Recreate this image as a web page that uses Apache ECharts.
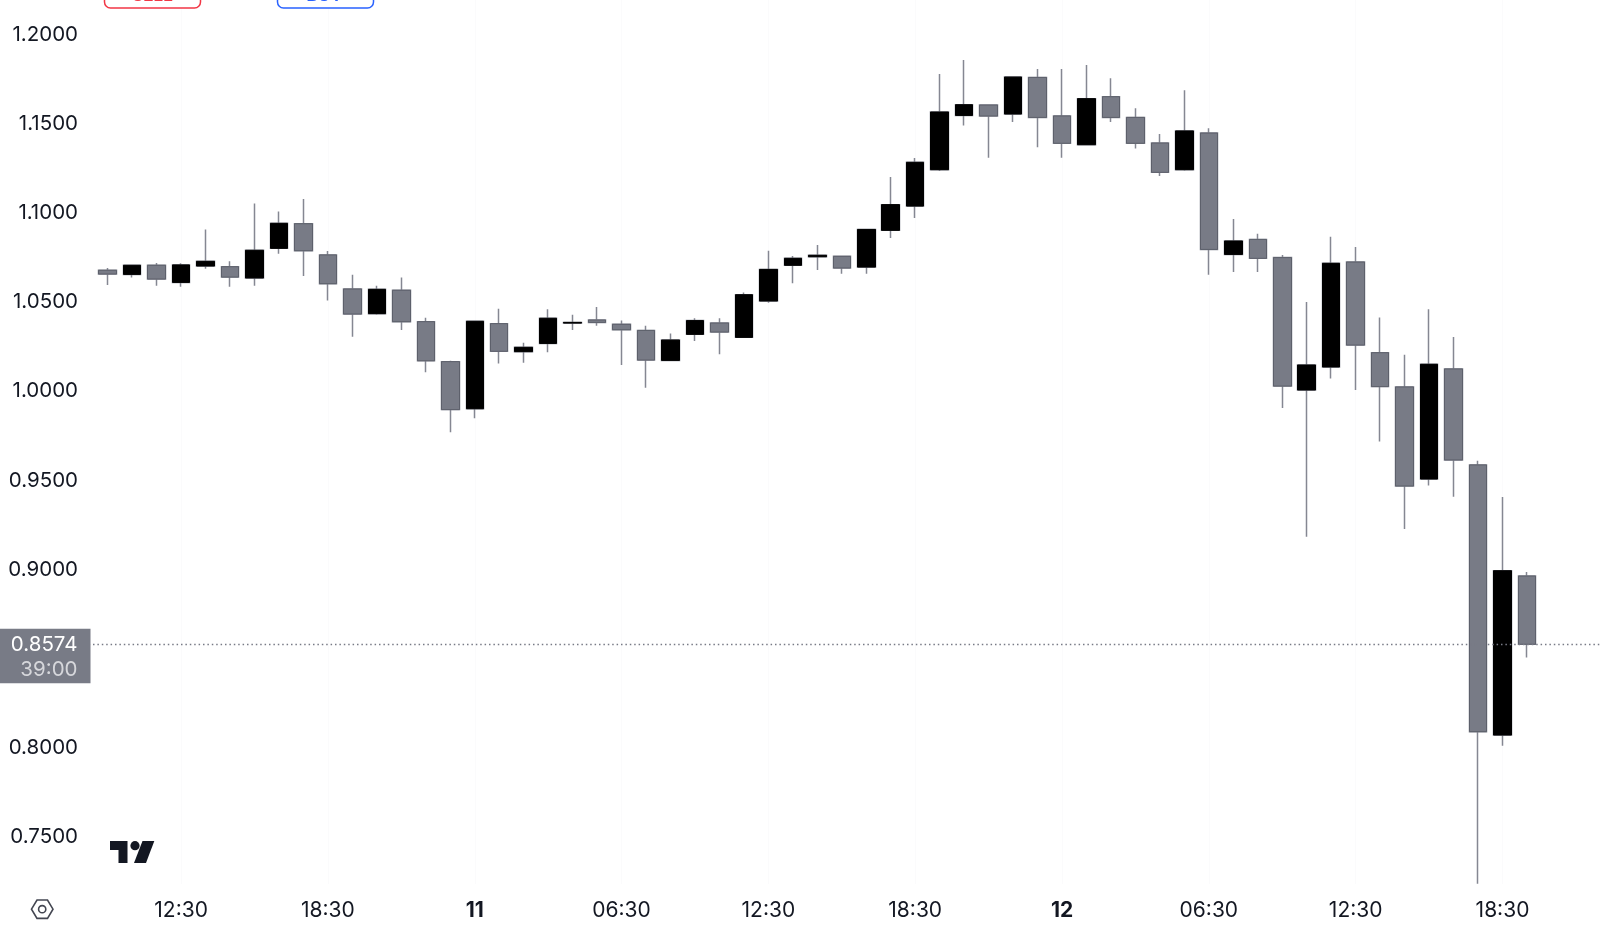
<!DOCTYPE html>
<html>
<head>
<meta charset="utf-8">
<style>html,body{margin:0;padding:0;background:#fff;overflow:hidden}#c{width:1600px;height:929px}</style>
<script src="https://cdn.jsdelivr.net/npm/echarts@6/dist/echarts.min.js"></script>
</head>
<body>
<div id="c"></div>
<script>
const opens = [1.0670,1.0647,1.0698,1.0602,1.0694,1.0690,1.0627,1.0793,1.0931,1.0756,1.0565,1.0427,1.0558,1.0382,1.0158,0.9894,1.0371,1.0214,1.0260,1.0374,1.0391,1.0367,1.0333,1.0165,1.0311,1.0374,1.0294,1.0498,1.0698,1.0746,1.0748,1.0688,1.0894,1.1030,1.1234,1.1538,1.1596,1.1546,1.1751,1.1535,1.1374,1.1643,1.1527,1.1383,1.1234,1.1439,1.0759,1.0843,1.0741,0.9999,1.0128,1.0716,1.0208,1.0016,0.9500,1.0117,0.9579,0.8065,0.8956];
const closes = [1.0649,1.0698,1.0621,1.0700,1.0720,1.0632,1.0782,1.0933,1.0780,1.0595,1.0425,1.0563,1.0382,1.0163,0.9889,1.0384,1.0216,1.0238,1.0401,1.0378,1.0378,1.0337,1.0167,1.0279,1.0388,1.0324,1.0533,1.0675,1.0737,1.0754,1.0683,1.0899,1.1038,1.1275,1.1557,1.1598,1.1535,1.1753,1.1527,1.1382,1.1632,1.1527,1.1382,1.1219,1.1451,1.0787,1.0834,1.0737,1.0021,1.0139,1.0709,1.0251,1.0018,0.9461,1.0143,0.9607,0.8084,0.8986,0.8574];
const highs = [1.0683,1.0698,1.0711,1.0709,1.0899,1.0720,1.1045,1.1000,1.1069,1.0778,1.0645,1.0584,1.0630,1.0404,1.0163,1.0388,1.0455,1.0264,1.0451,1.0421,1.0464,1.0389,1.0359,1.0316,1.0401,1.0401,1.0546,1.0780,1.0750,1.0812,1.0750,1.0899,1.1193,1.1299,1.1770,1.1849,1.1598,1.1753,1.1798,1.1798,1.1821,1.1746,1.1578,1.1434,1.1679,1.1466,1.0957,1.0875,1.0756,1.0492,1.0858,1.0800,1.0406,1.0197,1.0451,1.0296,0.9603,0.9399,0.8979];
const lows = [1.0587,1.0630,1.0584,1.0578,1.0679,1.0578,1.0584,1.0763,1.0638,1.0501,1.0298,1.0421,1.0335,1.0098,0.9762,0.9840,1.0148,1.0152,1.0210,1.0335,1.0359,1.0139,1.0012,1.0160,1.0274,1.0199,1.0294,1.0488,1.0597,1.0672,1.0651,1.0651,1.0851,1.0963,1.1226,1.1482,1.1301,1.1501,1.1359,1.1301,1.1370,1.1501,1.1352,1.1198,1.1228,1.0645,1.0660,1.0660,0.9898,0.9177,1.0064,0.9999,0.9711,0.9220,0.9463,0.9401,0.7231,0.8005,0.8500];
const tickSlots = [3,9,15,21,27,33,39,45,51,57];
const tickLabels = ['12:30','18:30','11','06:30','12:30','18:30','12','06:30','12:30','18:30'];
const dayLabels = ['11','12'];
const priceTicks = [0.75,0.80,0.90,0.95,1.00,1.05,1.10,1.15,1.20];
const lastPrice = 0.8574;
const countdown = '39:00';

const GREY = '#787b86', WICK = '#858792', FONT = 'Inter, "Noto Sans", sans-serif';
const TRAIL = 3;
const categories = [''].concat(opens.map((_, i) => 'c' + i)).concat(Array.from({length: TRAIL}, (_, i) => 't' + i));
const slotLabel = {};
tickSlots.forEach((s, i) => { slotLabel['c' + s] = tickLabels[i]; });
const blank = ['-', '-', '-', '-'];
const wicks = [blank].concat(opens.map((o, i) => [o, closes[i], lows[i], highs[i]]));
const bodies = [blank].concat(opens.map((o, i) => ({
  value: [o, closes[i], Math.min(o, closes[i]), Math.max(o, closes[i])],
  itemStyle: closes[i] >= o
    ? {color: '#000', color0: '#000', borderColor: '#000', borderColor0: '#000', borderColorDoji: '#000'}
    : {color: GREY, color0: GREY, borderColor: '#5d606b', borderColor0: '#5d606b', borderColorDoji: '#5d606b'}
})));

const chart = echarts.init(document.getElementById('c'), null, {renderer: 'canvas'});
chart.setOption({
  animation: false,
  backgroundColor: '#fff',
  grid: {left: 71, top: 0, width: 1541.6, height: 884, containLabel: false, outerBoundsMode: 'none'},
  xAxis: {
    type: 'category', data: categories, boundaryGap: true,
    axisLine: {show: false}, axisTick: {show: false},
    splitLine: {show: true, alignWithLabel: true, interval: (i, v) => v in slotLabel, lineStyle: {color: '#fbfbfc', width: 1}},
    axisLabel: {
      interval: (i, v) => v in slotLabel,
      margin: 16, color: '#131722', fontSize: 21, fontFamily: FONT,
      formatter: v => dayLabels.includes(slotLabel[v]) ? '{b|' + slotLabel[v] + '}' : slotLabel[v],
      rich: {b: {fontWeight: 'bold', fontSize: 21, fontFamily: FONT, color: '#131722'}}
    }
  },
  yAxis: {
    type: 'value', min: 0.7230, max: 1.2185, scale: true,
    axisLine: {show: false}, axisTick: {show: false}, splitLine: {show: false},
    axisLabel: {
      customValues: priceTicks, margin: -7, align: 'right',
      formatter: v => '{p|' + v.toFixed(4) + '}',
      rich: {p: {color: '#131722', fontSize: 20.5, fontFamily: FONT, padding: [3, 0, 0, 0]}}
    }
  },
  series: [
    {type: 'candlestick', data: wicks, barWidth: 18, clip: false,
     itemStyle: {color: 'transparent', color0: 'transparent', borderColor: WICK, borderColor0: WICK, borderColorDoji: WICK, borderWidth: 1.5}},
    {type: 'candlestick', data: bodies, barWidth: 18, clip: false,
     itemStyle: {borderWidth: 1},
     markLine: {silent: true, symbol: 'none', animation: false, precision: 4, label: {show: false},
       lineStyle: {color: GREY, type: [1.5, 2.9], width: 1.4},
       data: [{yAxis: lastPrice}]}}
  ]
});
const tagY = chart.convertToPixel({yAxisIndex: 0}, lastPrice);
chart.setOption({graphic: [
  {type: 'rect', z: 50, shape: {x: 0, y: tagY - 15.5, width: 90.5, height: 54.5}, style: {fill: GREY}},
  {type: 'text', z: 51, x: 77.5, y: tagY + 1, style: {text: lastPrice.toFixed(4), fill: '#fff', font: '20.5px ' + FONT, align: 'right', verticalAlign: 'middle'}},
  {type: 'text', z: 51, x: 77.5, y: tagY + 26, style: {text: countdown, fill: '#d6d7db', font: '20.5px ' + FONT, align: 'right', verticalAlign: 'middle'}},
  {type: 'rect', z: 50, shape: {x: 104.5, y: -20, width: 96, height: 28, r: 6}, style: {fill: '#fff', stroke: '#f23645', lineWidth: 1.5}},
  {type: 'rect', z: 50, shape: {x: 277.5, y: -20, width: 96, height: 28, r: 6}, style: {fill: '#fff', stroke: '#2962ff', lineWidth: 1.5}},
  {type: 'text', z: 51, x: 152.5, y: -4, style: {text: 'SELL', fill: '#f23645', font: 'bold 17px ' + FONT, align: 'center', verticalAlign: 'middle'}},
  {type: 'text', z: 51, x: 324.5, y: -4, style: {text: 'BUY', fill: '#2962ff', font: 'bold 17px ' + FONT, align: 'center', verticalAlign: 'middle'}},
  {type: 'polygon', z: 51, shape: {points: [[110,841],[127.5,841],[127.5,863],[118.5,863],[118.5,850],[110,850]]}, style: {fill: '#131722'}},
  {type: 'circle', z: 51, shape: {cx: 135, cy: 845.7, r: 4.6}, style: {fill: '#131722'}},
  {type: 'polygon', z: 51, shape: {points: [[142.5,841],[154.3,841],[146,863],[134,863]]}, style: {fill: '#131722'}},
  {type: 'polygon', z: 51, shape: {points: [[31.5,909.2],[37,900],[47.5,900],[53,909.2],[47.5,918.4],[37,918.4]]}, style: {fill: 'none', stroke: '#434651', lineWidth: 1.6}},
  {type: 'circle', z: 51, shape: {cx: 42.2, cy: 909.2, r: 3.6}, style: {fill: 'none', stroke: '#434651', lineWidth: 1.6}}
]});
</script>
</body>
</html>
